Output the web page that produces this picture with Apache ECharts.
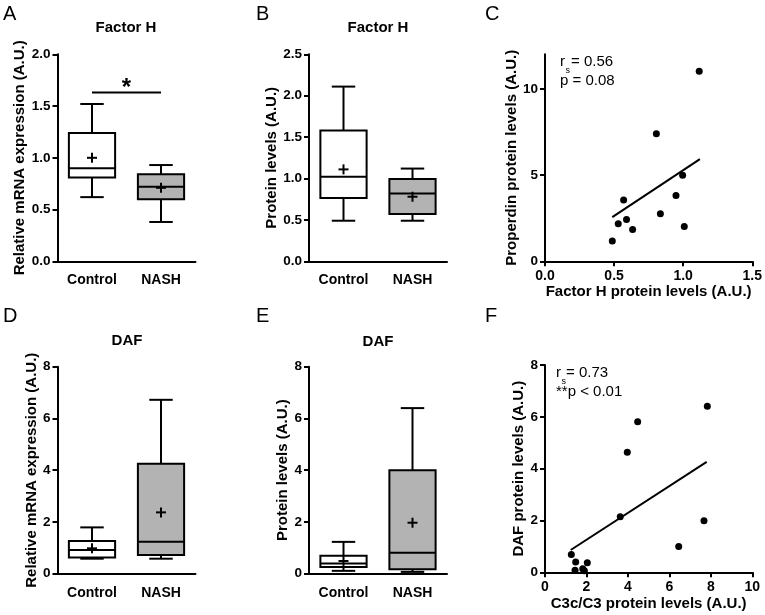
<!DOCTYPE html>
<html>
<head>
<meta charset="utf-8">
<script src="https://cdn.jsdelivr.net/npm/echarts@6/dist/echarts.min.js"></script>
<style>
html,body{margin:0;padding:0;background:#fff;}
#chart{width:765px;height:615px;}
</style>
</head>
<body>
<div id="chart"></div>
<script>
// ---- data ----
const boxCategories = ['Control', 'NASH'];
// each box: [min, Q1, median, Q3, max]
const fhMrnaControl = [0.62, 0.81, 0.90, 1.24, 1.52];
const fhMrnaNash    = [0.38, 0.60, 0.72, 0.84, 0.93];
const fhMrnaMeans   = [1.00, 0.71];
const fhMrnaSignif  = 1.63;

const fhProtControl = [0.49, 0.765, 1.02, 1.58, 2.11];
const fhProtNash    = [0.49, 0.57, 0.82, 0.995, 1.12];
const fhProtMeans   = [1.11, 0.78];

const dafMrnaControl = [0.58, 0.63, 0.92, 1.26, 1.79];
const dafMrnaNash    = [0.58, 0.72, 1.23, 4.25, 6.72];
const dafMrnaMeans   = [0.98, 2.37];

const dafProtControl = [0.11, 0.26, 0.39, 0.69, 1.23];
const dafProtNash    = [0.07, 0.17, 0.81, 4.00, 6.40];
const dafProtMeans   = [0.49, 1.97];

// scatter C: Factor H (x) vs properdin (y)
const fhProtX = [1.116, 0.806, 0.996, 0.948, 0.569, 0.835, 0.590, 0.530, 1.008, 0.634, 0.487];
const properdinY = [11.02, 7.40, 4.99, 3.82, 3.56, 2.76, 2.43, 2.18, 2.02, 1.85, 1.18];
const fitC = [[0.487, 2.56], [1.121, 5.92]];

// scatter F: C3c/C3 (x) vs DAF (y)
const c3X  = [7.83, 4.47, 3.97, 3.63, 7.67, 6.45, 1.27, 1.48, 2.04, 1.45, 1.82, 1.90];
const dafY = [6.41, 5.81, 4.63, 2.14, 1.99, 1.00, 0.69, 0.40, 0.37, 0.08, 0.14, 0.06];
const fitF = [[1.24, 0.86], [7.80, 4.26]];

// ---- helpers ----
const FONT = '"Liberation Sans", Arial, Helvetica, sans-serif';
const BLACK = '#000';
const GRAY = '#b3b3b3';

function boxData(ctrl, nash, means) {
  return [[0].concat(ctrl, [means[0]]), [1].concat(nash, [means[1]])];
}

function renderBox(params, api) {
  const idx = api.value(0);
  const mn = api.value(1), q1 = api.value(2), md = api.value(3), q3 = api.value(4), mx = api.value(5), mean = api.value(6);
  const band = api.size([1, 0])[0];
  const x = api.coord([idx, md])[0];
  const Y = v => api.coord([idx, v])[1];
  const bw = band * 0.67, cw = band * 0.34, pw = 5;
  const ls = { stroke: BLACK, lineWidth: 2 };
  const ym = Y(mean);
  return {
    type: 'group',
    children: [
      { type: 'line', shape: { x1: x, y1: Y(q3), x2: x, y2: Y(mx) }, style: ls },
      { type: 'line', shape: { x1: x - cw / 2, y1: Y(mx), x2: x + cw / 2, y2: Y(mx) }, style: ls },
      { type: 'line', shape: { x1: x, y1: Y(q1), x2: x, y2: Y(mn) }, style: ls },
      { type: 'line', shape: { x1: x - cw / 2, y1: Y(mn), x2: x + cw / 2, y2: Y(mn) }, style: ls },
      { type: 'rect', shape: { x: x - bw / 2, y: Y(q3), width: bw, height: Y(q1) - Y(q3) },
        style: { fill: idx === 0 ? '#fff' : GRAY, stroke: BLACK, lineWidth: 2 } },
      { type: 'line', shape: { x1: x - bw / 2, y1: Y(md), x2: x + bw / 2, y2: Y(md) }, style: ls },
      { type: 'line', shape: { x1: x - pw, y1: ym, x2: x + pw, y2: ym }, style: ls },
      { type: 'line', shape: { x1: x, y1: ym - pw, x2: x, y2: ym + pw }, style: ls }
    ]
  };
}

function renderSignif(params, api) {
  const p0 = api.coord([api.value(0), api.value(2)]);
  const p1 = api.coord([api.value(1), api.value(2)]);
  return {
    type: 'group',
    children: [
      { type: 'line', shape: { x1: p0[0], y1: p0[1], x2: p1[0], y2: p1[1] }, style: { stroke: BLACK, lineWidth: 2 } },
      { type: 'text', x: (p0[0] + p1[0]) / 2, y: p0[1] - 4.5,
        style: { text: '*', font: 'bold 24px ' + FONT, fill: BLACK, align: 'center', verticalAlign: 'middle', textAlign: 'center', textVerticalAlign: 'middle' } }
    ]
  };
}

const axisLineStyle = { show: true, lineStyle: { color: BLACK, width: 2 } };
const tickStyle = { show: true, length: 5, inside: false, lineStyle: { color: BLACK, width: 2 } };
const nameStyle = { fontFamily: FONT, fontWeight: 'bold', fontSize: 15, color: BLACK };

function catAxis(gridIndex) {
  return {
    type: 'category', gridIndex: gridIndex, data: boxCategories,
    axisLine: axisLineStyle, axisTick: { show: false },
    axisLabel: { fontFamily: FONT, fontWeight: 'bold', fontSize: 14, color: BLACK, margin: 12 },
    splitLine: { show: false }
  };
}
function valAxis(gridIndex, min, max, interval, decimals, name, gap, custom) {
  const ax = {
    type: 'value', gridIndex: gridIndex, min: min, max: max, interval: interval,
    name: name, nameLocation: 'middle', nameGap: gap, nameTextStyle: nameStyle,
    axisLine: axisLineStyle, axisTick: Object.assign({}, tickStyle),
    axisLabel: { fontFamily: FONT, fontWeight: 'bold', fontSize: 13.5, color: BLACK, margin: 7,
      formatter: v => Number(v).toFixed(decimals) },
    splitLine: { show: false }
  };
  if (custom) {
    ax.axisTick.customValues = custom;
    ax.axisLabel.customValues = custom;
  }
  return ax;
}

const chart = echarts.init(document.getElementById('chart'), null, { renderer: 'canvas' });

const option = {
  animation: false,
  backgroundColor: '#fff',
  grid: [
    { left: 57.5, top: 54.3, width: 138, height: 207 },   // A
    { left: 309, top: 54.3, width: 138, height: 207 },    // B
    { left: 545, top: 54.3, width: 208.3, height: 207 },  // C
    { left: 57.5, top: 366.7, width: 138, height: 207 },  // D
    { left: 309, top: 366.7, width: 138, height: 207 },   // E
    { left: 545, top: 365, width: 207.3, height: 207.3 }  // F
  ],
  xAxis: [
    catAxis(0),
    catAxis(1),
    Object.assign(valAxis(2, 0, 1.5, 0.5, 1, 'Factor H protein levels (A.U.)', 23),
      { axisLabel: { fontFamily: FONT, fontWeight: 'bold', fontSize: 14, color: BLACK, margin: 8, formatter: v => Number(v).toFixed(1) } }),
    catAxis(3),
    catAxis(4),
    Object.assign(valAxis(5, 0, 10, 2, 0, 'C3c/C3 protein levels (A.U.)', 24),
      { axisLabel: { fontFamily: FONT, fontWeight: 'bold', fontSize: 14, color: BLACK, margin: 8 } })
  ],
  yAxis: [
    valAxis(0, 0, 2, 0.5, 1, 'Relative mRNA expression (A.U.)', 29),
    valAxis(1, 0, 2.5, 0.5, 1, 'Protein levels (A.U.)', 30),
    valAxis(2, 0, 12, 5, 0, 'Properdin protein levels (A.U.)', 26, [0, 5, 10]),
    valAxis(3, 0, 8, 2, 0, 'Relative mRNA expression (A.U.)', 17),
    valAxis(4, 0, 8, 2, 0, 'Protein levels (A.U.)', 18),
    valAxis(5, 0, 8, 2, 0, 'DAF protein levels (A.U.)', 17.5)
  ],
  series: [
    { type: 'custom', xAxisIndex: 0, yAxisIndex: 0, renderItem: renderBox,
      encode: { x: 0, y: [1, 2, 3, 4, 5, 6] }, data: boxData(fhMrnaControl, fhMrnaNash, fhMrnaMeans), clip: false },
    { type: 'custom', xAxisIndex: 0, yAxisIndex: 0, renderItem: renderSignif,
      encode: { x: [0, 1], y: 2 }, data: [[0, 1, fhMrnaSignif]], clip: false },
    { type: 'custom', xAxisIndex: 1, yAxisIndex: 1, renderItem: renderBox,
      encode: { x: 0, y: [1, 2, 3, 4, 5, 6] }, data: boxData(fhProtControl, fhProtNash, fhProtMeans), clip: false },
    { type: 'scatter', xAxisIndex: 2, yAxisIndex: 2, symbol: 'circle', symbolSize: 7,
      itemStyle: { color: BLACK, opacity: 1 }, data: fhProtX.map((v, i) => [v, properdinY[i]]) },
    { type: 'line', xAxisIndex: 2, yAxisIndex: 2, showSymbol: false, symbol: 'none',
      lineStyle: { color: BLACK, width: 2 }, data: fitC },
    { type: 'custom', xAxisIndex: 3, yAxisIndex: 3, renderItem: renderBox,
      encode: { x: 0, y: [1, 2, 3, 4, 5, 6] }, data: boxData(dafMrnaControl, dafMrnaNash, dafMrnaMeans), clip: false },
    { type: 'custom', xAxisIndex: 4, yAxisIndex: 4, renderItem: renderBox,
      encode: { x: 0, y: [1, 2, 3, 4, 5, 6] }, data: boxData(dafProtControl, dafProtNash, dafProtMeans), clip: false },
    { type: 'scatter', xAxisIndex: 5, yAxisIndex: 5, symbol: 'circle', symbolSize: 7,
      itemStyle: { color: BLACK, opacity: 1 }, data: c3X.map((v, i) => [v, dafY[i]]) },
    { type: 'line', xAxisIndex: 5, yAxisIndex: 5, showSymbol: false, symbol: 'none',
      lineStyle: { color: BLACK, width: 2 }, data: fitF }
  ],
  graphic: [
    // panel letters
    { type: 'text', left: 3, top: 4, style: { text: 'A', font: '20px ' + FONT, fill: BLACK } },
    { type: 'text', left: 256, top: 4, style: { text: 'B', font: '20px ' + FONT, fill: BLACK } },
    { type: 'text', left: 485, top: 4, style: { text: 'C', font: '20px ' + FONT, fill: BLACK } },
    { type: 'text', left: 3, top: 306, style: { text: 'D', font: '20px ' + FONT, fill: BLACK } },
    { type: 'text', left: 256, top: 306, style: { text: 'E', font: '20px ' + FONT, fill: BLACK } },
    { type: 'text', left: 485, top: 306, style: { text: 'F', font: '20px ' + FONT, fill: BLACK } },
    // titles
    { type: 'text', x: 126, y: 28.3, style: { text: 'Factor H', font: 'bold 15px ' + FONT, fill: BLACK, align: 'center', verticalAlign: 'middle', textAlign: 'center', textVerticalAlign: 'middle' } },
    { type: 'text', x: 378, y: 28.3, style: { text: 'Factor H', font: 'bold 15px ' + FONT, fill: BLACK, align: 'center', verticalAlign: 'middle', textAlign: 'center', textVerticalAlign: 'middle' } },
    { type: 'text', x: 127, y: 340.7, style: { text: 'DAF', font: 'bold 15px ' + FONT, fill: BLACK, align: 'center', verticalAlign: 'middle', textAlign: 'center', textVerticalAlign: 'middle' } },
    { type: 'text', x: 378, y: 341.5, style: { text: 'DAF', font: 'bold 15px ' + FONT, fill: BLACK, align: 'center', verticalAlign: 'middle', textAlign: 'center', textVerticalAlign: 'middle' } },
    // stats C
    { type: 'text', x: 560, y: 62.3, style: { text: 'r', font: '15px ' + FONT, fill: BLACK, align: 'left', verticalAlign: 'middle', textAlign: 'left', textVerticalAlign: 'middle' } },
    { type: 'text', x: 565.5, y: 70.5, style: { text: 's', font: '9px ' + FONT, fill: BLACK, align: 'left', verticalAlign: 'middle', textAlign: 'left', textVerticalAlign: 'middle' } },
    { type: 'text', x: 571, y: 62.3, style: { text: '= 0.56', font: '15px ' + FONT, fill: BLACK, align: 'left', verticalAlign: 'middle', textAlign: 'left', textVerticalAlign: 'middle' } },
    { type: 'text', x: 560, y: 81, style: { text: 'p = 0.08', font: '15px ' + FONT, fill: BLACK, align: 'left', verticalAlign: 'middle', textAlign: 'left', textVerticalAlign: 'middle' } },
    // stats F
    { type: 'text', x: 556, y: 373.3, style: { text: 'r', font: '15px ' + FONT, fill: BLACK, align: 'left', verticalAlign: 'middle', textAlign: 'left', textVerticalAlign: 'middle' } },
    { type: 'text', x: 561.5, y: 381.5, style: { text: 's', font: '9px ' + FONT, fill: BLACK, align: 'left', verticalAlign: 'middle', textAlign: 'left', textVerticalAlign: 'middle' } },
    { type: 'text', x: 566, y: 373.3, style: { text: '= 0.73', font: '15px ' + FONT, fill: BLACK, align: 'left', verticalAlign: 'middle', textAlign: 'left', textVerticalAlign: 'middle' } },
    { type: 'text', x: 556, y: 392.3, style: { text: '**p < 0.01', font: '15px ' + FONT, fill: BLACK, align: 'left', verticalAlign: 'middle', textAlign: 'left', textVerticalAlign: 'middle' } }
  ]
};
chart.setOption(option);
</script>
</body>
</html>
